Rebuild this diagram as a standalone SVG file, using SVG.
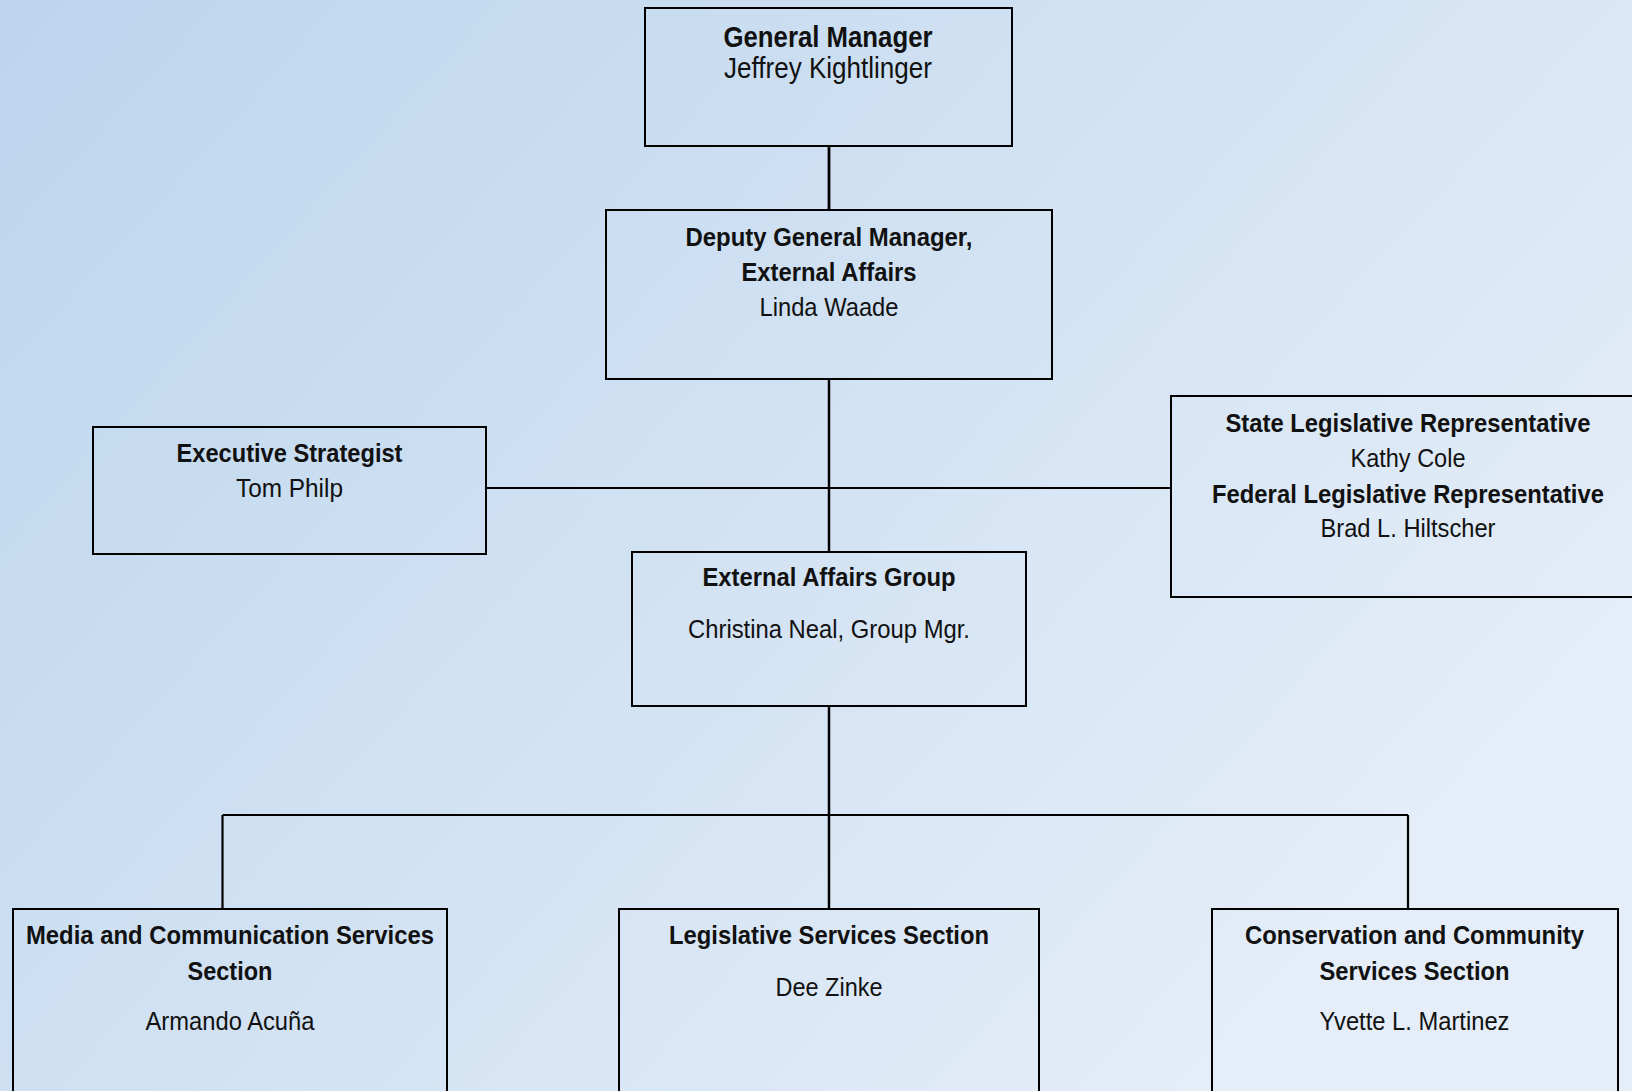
<svg xmlns="http://www.w3.org/2000/svg" width="1632" height="1091" viewBox="0 0 1632 1091">
<defs>
<linearGradient id="bg" gradientUnits="userSpaceOnUse" x1="0" y1="0" x2="1200" y2="1091">
<stop offset="0" stop-color="#BCD5ED"/>
<stop offset="1" stop-color="#E4EDF8"/>
</linearGradient>
<style>
.box{fill:none;stroke:#000;stroke-width:2}
.con{fill:none;stroke:#000;stroke-width:2.2}
text{font-family:"Liberation Sans",Arial,sans-serif;font-size:26px;fill:#111;text-anchor:middle}
.b{font-weight:bold}
.big{font-size:29.5px}
</style>
</defs>
<rect x="0" y="0" width="1632" height="1091" fill="url(#bg)"/>
<g id="connectors">
<line class="con" x1="829" y1="146" x2="829" y2="210" style="stroke-width:2.8"/>
<line class="con" x1="829" y1="379" x2="829" y2="552" style="stroke-width:2.5"/>
<line class="con" x1="486" y1="488" x2="1171" y2="488"/>
<line class="con" x1="829" y1="706" x2="829" y2="909" style="stroke-width:2.5"/>
<line class="con" x1="222.5" y1="815" x2="1408" y2="815"/>
<line class="con" x1="222.5" y1="815" x2="222.5" y2="909"/>
<line class="con" x1="1408" y1="815" x2="1408" y2="909"/>
</g>
<g id="general-manager">
<rect class="box" x="645" y="8" width="367" height="138"/>
<text class="b big" x="828" y="46.7" textLength="209" lengthAdjust="spacingAndGlyphs">General Manager</text>
<text class="big" x="828" y="78.3" textLength="208" lengthAdjust="spacingAndGlyphs">Jeffrey Kightlinger</text>
</g>
<g id="deputy-general-manager">
<rect class="box" x="606" y="210" width="446" height="169"/>
<text class="b" x="829" y="245.7" textLength="287" lengthAdjust="spacingAndGlyphs">Deputy General Manager,</text>
<text class="b" x="829" y="280.7" textLength="175" lengthAdjust="spacingAndGlyphs">External Affairs</text>
<text x="829" y="315.7" textLength="139" lengthAdjust="spacingAndGlyphs">Linda Waade</text>
</g>
<g id="executive-strategist">
<rect class="box" x="93" y="427" width="393" height="127"/>
<text class="b" x="289.5" y="462.3" textLength="226" lengthAdjust="spacingAndGlyphs">Executive Strategist</text>
<text x="289.5" y="497.3" textLength="107" lengthAdjust="spacingAndGlyphs">Tom Philp</text>
</g>
<g id="legislative-representatives">
<rect class="box" x="1171" y="396" width="470" height="201"/>
<text class="b" x="1408" y="432.3" textLength="365" lengthAdjust="spacingAndGlyphs">State Legislative Representative</text>
<text x="1408" y="467.3" textLength="115" lengthAdjust="spacingAndGlyphs">Kathy Cole</text>
<text class="b" x="1408" y="502.7" textLength="392" lengthAdjust="spacingAndGlyphs">Federal Legislative Representative</text>
<text x="1408" y="537.3" textLength="175" lengthAdjust="spacingAndGlyphs">Brad L. Hiltscher</text>
</g>
<g id="external-affairs-group">
<rect class="box" x="632" y="552" width="394" height="154"/>
<text class="b" x="829" y="586" textLength="253" lengthAdjust="spacingAndGlyphs">External Affairs Group</text>
<text x="829" y="637.7" textLength="282" lengthAdjust="spacingAndGlyphs">Christina Neal, Group Mgr.</text>
</g>
<g id="media-communication">
<rect class="box" x="13" y="909" width="434" height="200"/>
<text class="b" x="230" y="944.3" textLength="408" lengthAdjust="spacingAndGlyphs">Media and Communication Services</text>
<text class="b" x="230" y="980" textLength="85" lengthAdjust="spacingAndGlyphs">Section</text>
<text x="230" y="1030" textLength="169" lengthAdjust="spacingAndGlyphs">Armando Acuña</text>
</g>
<g id="legislative-services">
<rect class="box" x="619" y="909" width="420" height="200"/>
<text class="b" x="829" y="944.3" textLength="320" lengthAdjust="spacingAndGlyphs">Legislative Services Section</text>
<text x="829" y="995.7" textLength="107" lengthAdjust="spacingAndGlyphs">Dee Zinke</text>
</g>
<g id="conservation-community">
<rect class="box" x="1212" y="909" width="406" height="200"/>
<text class="b" x="1414.5" y="944.3" textLength="339" lengthAdjust="spacingAndGlyphs">Conservation and Community</text>
<text class="b" x="1414.5" y="980" textLength="190" lengthAdjust="spacingAndGlyphs">Services Section</text>
<text x="1414.5" y="1030" textLength="190" lengthAdjust="spacingAndGlyphs">Yvette L. Martinez</text>
</g>
</svg>
